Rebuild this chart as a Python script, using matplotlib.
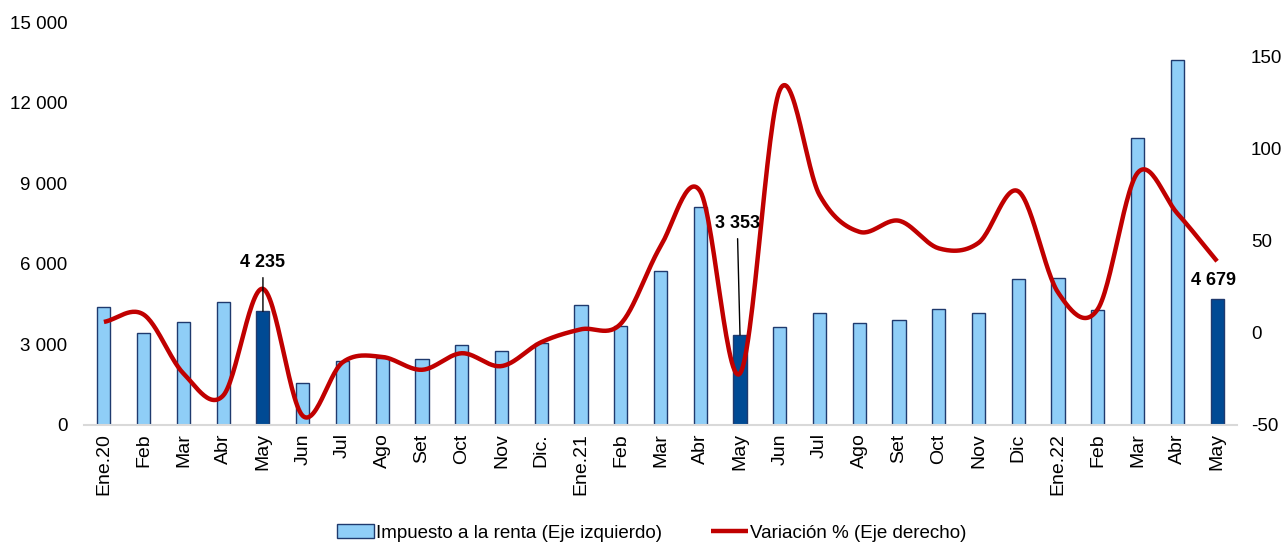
import numpy as np
import matplotlib.pyplot as plt
from matplotlib.ticker import FuncFormatter

plt.rcParams["font.family"] = ["Liberation Sans", "DejaVu Sans"]
plt.rcParams["axes.unicode_minus"] = False

# Data
meses = ["Ene.20", "Feb", "Mar", "Abr", "May", "Jun", "Jul", "Ago", "Set", "Oct", "Nov", "Dic.",
         "Ene.21", "Feb", "Mar", "Abr", "May", "Jun", "Jul", "Ago", "Set", "Oct", "Nov", "Dic",
         "Ene.22", "Feb", "Mar", "Abr", "May"]
impuesto = [4380, 3420, 3830, 4580, 4235, 1560, 2380, 2490, 2450, 2980, 2765, 3060,
            4460, 3695, 5740, 8120, 3353, 3660, 4155, 3805, 3905, 4300, 4155, 5420,
            5455, 4280, 10700, 13600, 4679]
variacion = [6, 10, -22, -34, 24, -45, -16, -13, -20, -11, -18, -5,
             2, 5, 47, 77, -22, 132, 75, 55, 61, 46, 49, 77,
             22, 13, 87, 65, 39]
destacados = [4, 16, 28]

c_bar = "#8FCEF7"
c_dark = "#004A94"
c_edge = "#1F3A6E"
c_line = "#C00000"


def smooth(x, y, n=30):
    # Catmull-Rom curve, similar to Excel's smoothed line
    x = np.asarray(x, float)
    y = np.asarray(y, float)
    px = np.concatenate([[2 * x[0] - x[1]], x, [2 * x[-1] - x[-2]]])
    py = np.concatenate([[2 * y[0] - y[1]], y, [2 * y[-1] - y[-2]]])
    xs, ys = [], []
    t = np.linspace(0, 1, n)
    for i in range(1, len(px) - 2):
        for p, out in ((px, xs), (py, ys)):
            p0, p1, p2, p3 = p[i - 1], p[i], p[i + 1], p[i + 2]
            out.extend(0.5 * ((2 * p1) + (-p0 + p2) * t
                              + (2 * p0 - 5 * p1 + 4 * p2 - p3) * t ** 2
                              + (-p0 + 3 * p1 - 3 * p2 + p3) * t ** 3))
    return np.array(xs), np.array(ys)


x = np.arange(len(meses))
fig = plt.figure(figsize=(12.85, 5.45), dpi=100)
ax = fig.add_axes([0.0654, 0.2202, 0.8972, 0.7394])
ax2 = ax.twinx()

colors = [c_dark if i in destacados else c_bar for i in x]
bars = ax.bar(x, impuesto, width=0.33, color=colors, edgecolor=c_edge, linewidth=1,
              label="Impuesto a la renta (Eje izquierdo)", zorder=2)

sx, sy = smooth(x, variacion)
ax2.plot(sx, sy, color=c_line, lw=3.2, solid_capstyle="butt",
         label="Variación % (Eje derecho)", zorder=3)

ax.set_xlim(-0.5, len(meses) - 0.5)
ax.set_ylim(0, 15000)
ax.set_yticks(range(0, 15001, 3000))
ax.yaxis.set_major_formatter(FuncFormatter(lambda v, p: f"{int(v):,}".replace(",", " ")))
ax2.set_ylim(-50, 169)
ax2.set_yticks([-50, 0, 50, 100, 150])

ax.set_xticks(x)
ax.set_xticklabels(meses, rotation=90, fontsize=14)
ax.tick_params(axis="y", labelsize=13.5, length=0, pad=12)
ax.tick_params(axis="x", length=0, pad=6)
ax2.tick_params(axis="y", labelsize=13.5, length=0, pad=10)

for a in (ax, ax2):
    for s in ("top", "left", "right"):
        a.spines[s].set_visible(False)
ax2.spines["bottom"].set_visible(False)
ax.spines["bottom"].set_color("#D9D9D9")
ax.spines["bottom"].set_linewidth(1.5)

# Etiquetas de los meses destacados
etiquetas = [(4, 6060, True), (15.93, 7510, True), (27.9, 5390, False)]
for (xt, yt, flecha), i in zip(etiquetas, destacados):
    val = f"{impuesto[i]:,}".replace(",", " ")
    if flecha:
        ax2.annotate(val, xy=(i, impuesto[i]), xycoords=ax.transData,
                     xytext=(xt, yt), textcoords=ax.transData,
                     ha="center", va="center", fontsize=13, fontweight="bold",
                     arrowprops=dict(arrowstyle="-", color="black", lw=1,
                                     shrinkA=3, shrinkB=0), zorder=5)
    else:
        ax2.annotate(val, xy=(xt, yt), xycoords=ax.transData,
                     ha="center", va="center", fontsize=13, fontweight="bold", zorder=5)

h1, l1 = ax.get_legend_handles_labels()
h2, l2 = ax2.get_legend_handles_labels()
fig.legend(h1 + h2, l1 + l2, loc="center", bbox_to_anchor=(0.507, 0.022), ncol=2,
           frameon=False, fontsize=13.5, handlelength=2.0, handletextpad=0.1,
           columnspacing=2.6)

fig.savefig("out.png", dpi=100)
